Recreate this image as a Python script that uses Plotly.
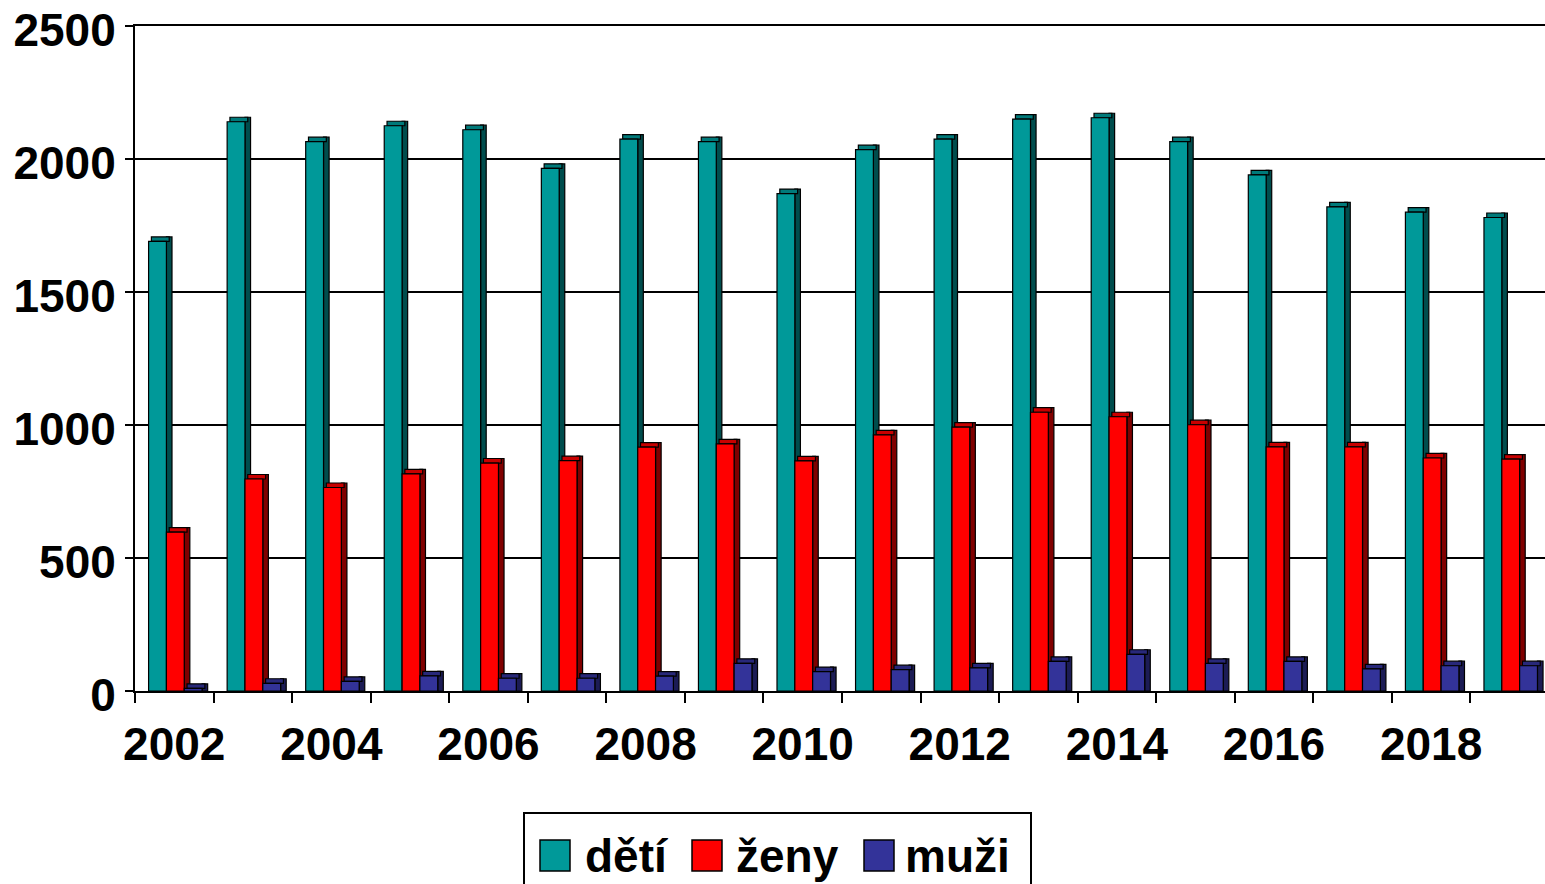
import plotly.graph_objects as go

# values
years = list(range(2002, 2020))
deti = [1690, 2140, 2065, 2125, 2110, 1965, 2075, 2065, 1870, 2035,
        2075, 2150, 2155, 2065, 1940, 1820, 1800, 1780]
zeny = [597, 797, 765, 816, 857, 866, 917, 929, 865, 963,
        992, 1048, 1031, 1001, 918, 918, 876, 872]
muzi = [10, 29, 36, 57, 48, 48, 56, 104, 73, 80,
        87, 111, 138, 104, 111, 83, 95, 95]

series_names = ["dětí", "ženy", "muži"]
front_colors = ["#009999", "#FF0000", "#333399"]
top_colors = ["#007A7A", "#C80000", "#28287A"]
side_colors = ["#004D4D", "#800000", "#1C1C55"]

W = 0.227    # bar width (category units)
D = 0.071    # fake 3d depth, x
DY = 17      # fake 3d depth, y (value units)
FIRST_OFF = -0.327

FONT = dict(family="Liberation Sans, Arial", size=46, color="black", weight="bold")
EDGE = dict(color="black", width=1.2)

fig = go.Figure()

for i, vals in enumerate([deti, zeny, muzi]):
    off = FIRST_OFF + i * W
    # side face
    fig.add_trace(go.Bar(
        x=years, y=[v + DY for v in vals], offset=off + W, width=D,
        marker=dict(color=side_colors[i], line=EDGE), hoverinfo="skip", showlegend=False))
    # top face
    fig.add_trace(go.Bar(
        x=years, y=[DY] * len(vals), base=vals, offset=off + D / 2, width=W,
        marker=dict(color=top_colors[i], line=EDGE), hoverinfo="skip", showlegend=False))
    # front face
    fig.add_trace(go.Bar(
        x=years, y=vals, offset=off, width=W, name=series_names[i],
        marker=dict(color=front_colors[i], line=EDGE), showlegend=False))

# plot area in page pixels (body margin is removed below)
FIG_W, FIG_H = 1545, 884
L, R, T, B = 135, 1545, 26, 691


def px(x):
    return (x - L) / (R - L)


def py(y):
    return (B - y) / (B - T)


shapes = [dict(type="rect", xref="paper", yref="paper",
               x0=px(524), x1=px(1031), y0=py(813), y1=py(905),
               line=dict(color="black", width=2), fillcolor="rgba(0,0,0,0)")]
annotations = []
sq_x = [540, 692, 864]
txt_x = [583, 734, 903]
for i, name in enumerate(series_names):
    shapes.append(dict(type="rect", xref="paper", yref="paper",
                       x0=px(sq_x[i]), x1=px(sq_x[i] + 30), y0=py(840), y1=py(871),
                       line=dict(color="black", width=1.5), fillcolor=front_colors[i]))
    annotations.append(dict(text=name, xref="paper", yref="paper",
                            x=px(txt_x[i]), y=py(856), xanchor="left", yanchor="middle",
                            showarrow=False, font=FONT))

fig.update_layout(
    width=FIG_W, height=FIG_H,
    margin=dict(l=L, r=FIG_W - R, t=T, b=FIG_H - B),
    paper_bgcolor="white", plot_bgcolor="white",
    barmode="overlay",
    shapes=shapes, annotations=annotations,
    xaxis=dict(
        range=[2001.5, 2019.45], automargin=False,
        tickvals=years[::2], ticktext=[str(y) for y in years[::2]],
        ticks="", tickfont=FONT, ticklabelstandoff=12,
        showline=True, linecolor="black", linewidth=2, mirror=True,
        showgrid=False, zeroline=False,
        minor=dict(tick0=2001.5, dtick=1, ticks="outside", ticklen=10,
                   tickwidth=2, tickcolor="black", showgrid=False),
    ),
    yaxis=dict(
        range=[0, 2500], automargin=False, ticklabeloverflow="allow",
        tickvals=[0, 500, 1000, 1500, 2000, 2500], ticklabelshift=4,
        tickfont=FONT, ticks="outside", ticklen=8, tickwidth=2, tickcolor="black",
        showline=True, linecolor="black", linewidth=2,
        showgrid=True, gridcolor="black", gridwidth=2, zeroline=False,
    ),
)

fig.write_html("out.html", config={"displayModeBar": False},
               post_script="document.body.style.margin='0';document.body.style.overflow='hidden';")
